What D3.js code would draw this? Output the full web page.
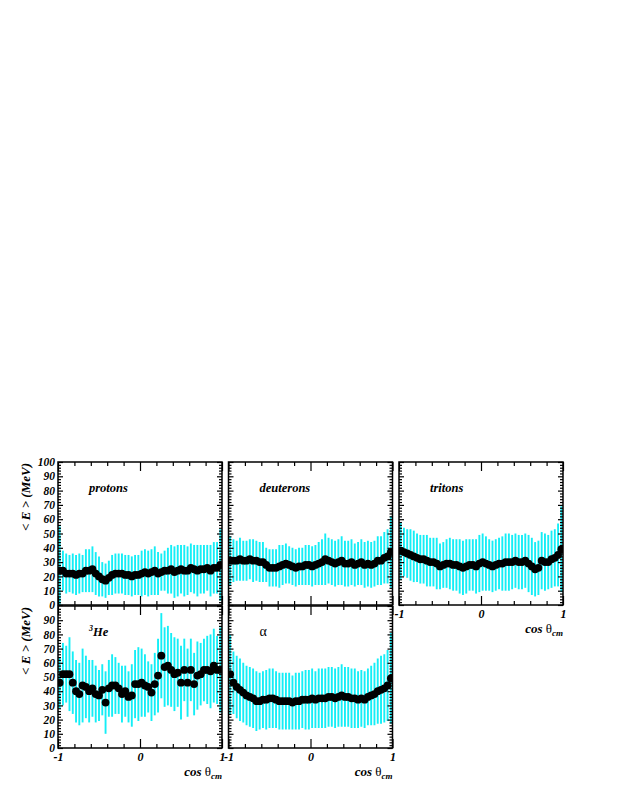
<!DOCTYPE html>
<html>
<head>
<meta charset="utf-8">
<style>
    body { margin: 0; background: #fff; }
    text { font-family: "Liberation Serif", "DejaVu Serif", serif; font-weight: bold; font-style: italic; }
</style>
</head>
<body>
<svg id="container" width="623" height="806"></svg>
<script src="https://cdn.jsdelivr.net/npm/d3@7"></script>
<script>
    // bin centres in cos theta_cm (50 bins)
    const cosBins = [-0.98,-0.94,-0.90,-0.86,-0.82,-0.78,-0.74,-0.70,-0.66,-0.62,
        -0.58,-0.54,-0.50,-0.46,-0.42,-0.38,-0.34,-0.30,-0.26,-0.22,
        -0.18,-0.14,-0.10,-0.06,-0.02,0.02,0.06,0.10,0.14,0.18,
        0.22,0.26,0.30,0.34,0.38,0.42,0.46,0.50,0.54,0.58,
        0.62,0.66,0.70,0.74,0.78,0.82,0.86,0.90,0.94,0.98]

    const protonMean = [24,24,22,22,22,21,22,22,24,24,
        25,22,20,18,17,19,21,22,22,22,
        21,21,20,21,21,22,23,22,23,24,
        22,23,24,24,25,23,24,25,24,24,
        26,25,24,25,25,26,24,26,26,28]
    const protonErr = [31,14,14,13,14,14,14,13,15,15,
        16,15,14,12,12,12,14,14,14,14,
        14,14,14,14,14,16,16,16,16,17,
        15,13,14,16,17,18,18,17,18,17,
        17,17,18,17,17,16,18,18,18,25]

    const deuteronMean = [31,31,31,32,31,31,32,31,31,30,
        30,28,26,26,26,27,28,29,28,27,
        26,27,27,28,28,27,28,29,30,32,
        31,30,29,30,31,29,29,30,28,29,
        30,28,29,28,29,31,31,33,34,37]
    const deuteronErr = [17,15,14,15,14,14,14,15,14,14,
        14,12,13,13,13,15,14,14,13,13,
        13,13,13,14,14,14,14,15,16,18,
        16,16,16,16,17,16,16,16,15,15,
        16,16,16,16,16,17,17,18,19,25]

    const tritonMean = [38,37,36,35,34,33,32,32,31,30,
        30,29,27,28,29,29,28,28,27,26,
        27,28,28,27,29,30,29,28,27,28,
        29,29,30,30,30,31,30,30,31,29,
        27,25,26,31,30,30,32,33,35,39]
    const tritonErr = [20,17,17,18,18,17,17,17,18,17,
        17,18,16,16,17,18,18,18,19,19,
        19,18,18,19,20,20,19,18,18,18,
        18,19,20,20,19,19,19,19,19,20,
        20,19,19,20,20,19,20,20,22,30]

    const he3Mean = [46,52,52,52,46,40,38,44,43,40,
        42,38,37,41,32,42,44,44,42,38,
        40,36,37,45,45,46,44,43,39,45,
        51,65,57,58,55,52,53,46,55,46,
        55,45,51,52,55,55,54,58,55,55]
    const he3Err = [18,22,20,26,22,22,22,26,22,22,
        20,20,18,18,22,20,22,20,18,20,
        18,18,22,24,26,24,22,18,20,22,
        26,30,28,28,26,26,24,26,22,24,
        22,22,24,22,22,24,26,26,24,30]

    const alphaMean = [52,46,43,41,39,37,36,35,33,33,
        34,34,35,35,34,33,33,33,33,32,
        33,33,34,34,34,35,34,35,35,35,
        36,36,35,36,37,36,36,35,35,34,
        35,34,36,37,38,40,41,42,44,49]
    const alphaErr = [28,22,22,22,21,21,21,21,21,20,
        20,21,21,21,20,20,20,20,20,19,
        20,20,20,21,21,21,20,21,21,21,
        21,21,21,21,22,21,21,21,21,20,
        20,20,20,21,22,23,24,24,25,32]

    const yMajorTop = [0,10,20,30,40,50,60,70,80,90,100]
    const yMajorBottom = [0,10,20,30,40,50,60,70,80,90]
    const xMajor = [-1,0,1]

    let svg = d3.select("#container")

    const panelW = 164
    const colX = [58, 228.5, 399]
    const rows = [{top: 462, bottom: 605}, {top: 606, bottom: 748}]
    const errColor = "#14eef6"

    let panels = [
        {name: "protons", mean: protonMean, err: protonErr, col: 0, row: 0, yLabels: yMajorTop, xLabels: false},
        {name: "deuterons", mean: deuteronMean, err: deuteronErr, col: 1, row: 0, yLabels: null, xLabels: false},
        {name: "tritons", mean: tritonMean, err: tritonErr, col: 2, row: 0, yLabels: null, xLabels: true},
        {name: "He3", mean: he3Mean, err: he3Err, col: 0, row: 1, yLabels: yMajorBottom, xLabels: true},
        {name: "alpha", mean: alphaMean, err: alphaErr, col: 1, row: 1, yLabels: null, xLabels: true}
    ]

    function styleAxis(g, size) {
        g.select(".domain").remove()
        g.attr("font-family", null).attr("font-size", size)
        g.selectAll("line").attr("stroke", "black").attr("stroke-width", 1.2)
        g.selectAll("text").attr("fill", "black")
    }

    panels.forEach((p, i) => {
        let x0 = colX[p.col]
        let r = rows[p.row]
        let x = d3.scaleLinear().domain([-1, 1]).range([x0, x0 + panelW])
        let y = d3.scaleLinear().domain([0, 100]).range([r.bottom, r.top])

        svg.append("clipPath").attr("id", "clip" + i)
            .append("rect")
            .attr("x", x0).attr("y", r.top)
            .attr("width", panelW).attr("height", r.bottom - r.top)

        let g = svg.append("g").attr("clip-path", "url(#clip" + i + ")")
        let pts = cosBins.map((c, k) => ({c: c, m: p.mean[k], e: p.err[k]}))

        g.selectAll("line.err").data(pts)
            .enter().append("line")
            .attr("class", "err")
            .attr("x1", d => x(d.c)).attr("x2", d => x(d.c))
            .attr("y1", d => y(d.m - d.e)).attr("y2", d => y(d.m + d.e))
            .attr("stroke", errColor)
            .attr("stroke-width", 1.9)

        g.selectAll("circle").data(pts)
            .enter().append("circle")
            .attr("cx", d => x(d.c))
            .attr("cy", d => y(d.m))
            .attr("r", 3.9)
            .attr("fill", "black")

        // frame
        svg.append("rect")
            .attr("x", x0).attr("y", r.top)
            .attr("width", panelW).attr("height", r.bottom - r.top)
            .attr("fill", "none").attr("stroke", "black").attr("stroke-width", 1.5)

        // y ticks left/right
        let yMinor = d3.range(0, 101, 2).filter(v => v % 10 != 0)
        let left = svg.append("g").attr("transform", `translate(${x0},0)`)
            .call(d3.axisLeft(y).tickValues(p.yLabels ? p.yLabels : yMajorTop).tickSize(-5).tickPadding(3)
                .tickFormat(p.yLabels ? d3.format("d") : ""))
        styleAxis(left, 11.5)
        if (!p.yLabels) left.selectAll("text").remove()
        if (p.row == 1) left.selectAll(".tick").filter(d => d == 100).remove()
        styleAxis(svg.append("g").attr("transform", `translate(${x0},0)`)
            .call(d3.axisLeft(y).tickValues(yMinor).tickSize(-3).tickFormat("")), 11)
        styleAxis(svg.append("g").attr("transform", `translate(${x0 + panelW},0)`)
            .call(d3.axisRight(y).tickValues(yMajorTop).tickSize(-5).tickFormat("")), 11)
        styleAxis(svg.append("g").attr("transform", `translate(${x0 + panelW},0)`)
            .call(d3.axisRight(y).tickValues(yMinor).tickSize(-3).tickFormat("")), 11)

        // x ticks bottom/top
        let xMinor = [-0.8, -0.6, -0.4, -0.2, 0.2, 0.4, 0.6, 0.8]
        let bottom = svg.append("g").attr("transform", `translate(0,${r.bottom})`)
            .call(d3.axisBottom(x).tickValues(xMajor).tickSize(-9).tickPadding(4)
                .tickFormat(d => d == -1 ? "-1" : d3.format("d")(d)))
        styleAxis(bottom, 12)
        if (!p.xLabels) bottom.selectAll("text").remove()
        styleAxis(svg.append("g").attr("transform", `translate(0,${r.bottom})`)
            .call(d3.axisBottom(x).tickValues(xMinor).tickSize(-4).tickFormat("")), 11)
        styleAxis(svg.append("g").attr("transform", `translate(0,${r.top})`)
            .call(d3.axisTop(x).tickValues(xMajor).tickSize(-9).tickFormat("")), 11)
        styleAxis(svg.append("g").attr("transform", `translate(0,${r.top})`)
            .call(d3.axisTop(x).tickValues(xMinor).tickSize(-4).tickFormat("")), 11)

        // panel label
        let lab = svg.append("text")
            .attr("x", x0 + 31).attr("y", r.top + 29.5)
            .attr("font-size", 12.5)
        if (p.name == "He3") {
            lab.append("tspan").text("3").attr("font-size", 8).attr("dy", -5)
            lab.append("tspan").text("He").attr("dy", 5)
        } else if (p.name == "alpha") {
            lab.text("α")
                .style("font-style", "normal")
                .style("font-weight", "normal")
                .attr("font-size", 14)
        } else {
            lab.text(p.name)
        }

        // x title
        if (p.xLabels) {
            let t = svg.append("text")
                .attr("x", x0 + panelW).attr("y", r.bottom + 28)
                .attr("text-anchor", "end").attr("font-size", 13)
            t.append("tspan").text("cos ")
            t.append("tspan").text("θ").style("font-style", "normal").style("font-weight", "normal")
            t.append("tspan").text("cm").attr("font-size", 9).attr("dy", 3)
        }

        // y title
        if (p.col == 0) {
            svg.append("text")
                .attr("transform", `translate(29.5,${r.top + 1}) rotate(-90)`)
                .attr("text-anchor", "end")
                .attr("font-size", 13)
                .text("< E > (MeV)")
        }
    })
</script>
</body>
</html>
